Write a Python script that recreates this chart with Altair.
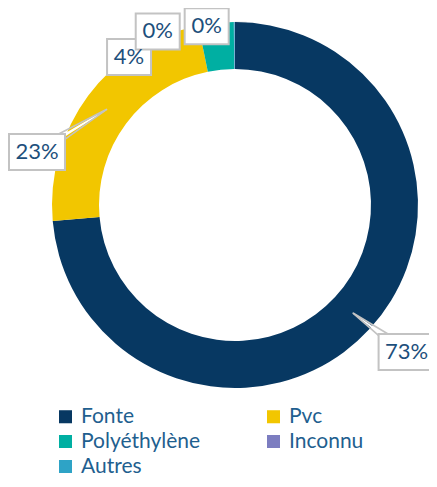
import altair as alt
import numpy as np
import pandas as pd

# ---- data ----
categories = ["Fonte", "Pvc", "Polyéthylène", "Inconnu", "Autres"]
shares = [73.6, 23.2, 3.1, 0.05, 0.05]
labels = ["73%", "23%", "4%", "0%", "0%"]
colors = ["#073862", "#f2c600", "#00afa2", "#7c7dc0", "#2ea3c6"]

# ---- layout (pixels / degrees) ----
W, H = 421, 471
CX, CY = 227, 197
R_OUT, R_IN = 183, 136
label_angle = [130.6, 285.0, 324.4, 336.0, 351.0]
label_radius = [226, 205, 182, 190, 181]
show_pointer = [True, True, False, False, False]
R_TIP = 160
FONT = "Lato"
TXT = "#1d4f7c"

shares_a = np.array(shares)
cum = np.cumsum(shares_a)
mid = (cum - shares_a / 2) / cum[-1] * 360.0

arc_df = pd.DataFrame({"cat": categories, "share": shares, "idx": range(len(categories))})

la = np.radians(label_angle)
lx = np.array(label_radius) * np.sin(la)
ly = np.array(label_radius) * np.cos(la)
bw = np.array([12 * len(t) + 20 for t in labels])
lab_df = pd.DataFrame({
    "x": lx, "y": ly, "x1": lx - bw / 2, "x2": lx + bw / 2,
    "y1": ly - 18, "y2": ly + 18, "text": labels,
})

tri_rows, trail_rows = [], []
for i in range(len(categories)):
    if not show_pointer[i]:
        continue
    m = np.radians(mid[i])
    tx, ty = R_TIP * np.sin(m), R_TIP * np.cos(m)
    dx, dy = lx[i] - tx, ly[i] - ty
    n = np.hypot(dx, dy)
    px, py = -dy / n * 6, dx / n * 6
    tri_rows += [
        {"g": i, "o": 0, "x": lx[i] + px, "y": ly[i] + py},
        {"g": i, "o": 1, "x": tx, "y": ty},
        {"g": i, "o": 2, "x": lx[i] - px, "y": ly[i] - py},
    ]
    trail_rows += [
        {"g": i, "o": 0, "x": tx, "y": ty, "s": 0},
        {"g": i, "o": 1, "x": lx[i], "y": ly[i], "s": 12},
    ]
tri_df = pd.DataFrame(tri_rows)
trail_df = pd.DataFrame(trail_rows)

xs = alt.Scale(domain=[-CX, W - CX], nice=False, zero=False)
ys = alt.Scale(domain=[CY - H, CY], nice=False, zero=False)

shadow_df = pd.DataFrame({"v": [1]})
shadow1 = alt.Chart(shadow_df).mark_arc(
    innerRadius=R_OUT - 4, outerRadius=R_OUT + 4, color="#000000", opacity=0.05
).encode(theta=alt.Theta("v:Q"), x=alt.value(CX), y=alt.value(CY + 3))
shadow2 = alt.Chart(shadow_df).mark_arc(
    innerRadius=R_OUT - 4, outerRadius=R_OUT + 2, color="#000000", opacity=0.08
).encode(theta=alt.Theta("v:Q"), x=alt.value(CX), y=alt.value(CY + 2))

arc = alt.Chart(arc_df).mark_arc(innerRadius=R_IN, outerRadius=R_OUT).encode(
    theta=alt.Theta("share:Q", stack=True),
    order=alt.Order("idx:Q"),
    color=alt.Color(
        "cat:N",
        scale=alt.Scale(domain=categories, range=colors),
        sort=categories,
        legend=alt.Legend(
            title=None, orient="none", legendX=47, legendY=398, columns=2,
            direction="horizontal",
            symbolType="square", symbolSize=170, symbolStrokeWidth=0,
            labelFont=FONT, labelFontSize=21, labelColor="#1f5f8f",
            labelOffset=5, rowPadding=3, columnPadding=62, labelLimit=300,
        ),
    ),
    x=alt.value(CX),
    y=alt.value(CY),
)

trail = alt.Chart(trail_df).mark_trail(color="white").encode(
    x=alt.X("x:Q", scale=xs, axis=None),
    y=alt.Y("y:Q", scale=ys, axis=None),
    size=alt.Size("s:Q", scale=alt.Scale(type="identity"), legend=None),
    detail="g:N",
    order="o:Q",
)

tri = alt.Chart(tri_df).mark_line(color="#c3c3c3", strokeWidth=1.6).encode(
    x=alt.X("x:Q", scale=xs, axis=None),
    y=alt.Y("y:Q", scale=ys, axis=None),
    detail="g:N",
    order="o:Q",
)

boxes = alt.Chart(lab_df).mark_rect(fill="white", stroke="#c3c3c3", strokeWidth=2).encode(
    x=alt.X("x1:Q", scale=xs, axis=None), x2="x2:Q",
    y=alt.Y("y1:Q", scale=ys, axis=None), y2="y2:Q",
)

texts = alt.Chart(lab_df).mark_text(font=FONT, fontSize=22, color=TXT, baseline="middle", align="center").encode(
    x=alt.X("x:Q", scale=xs, axis=None),
    y=alt.Y("y:Q", scale=ys, axis=None),
    text="text:N",
)

chart = alt.layer(shadow1, shadow2, arc, trail, tri, boxes, texts).properties(
    width=W, height=H, padding=0, autosize=alt.AutoSizeParams(type="none")
).configure_view(stroke=None)

chart.save("out.html", embed_options={"renderer": "svg", "actions": False})
